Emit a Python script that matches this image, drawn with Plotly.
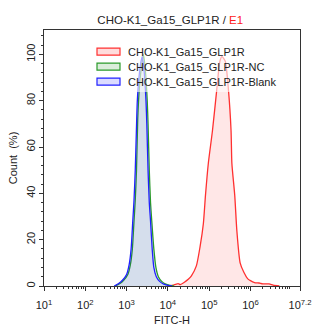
import plotly.graph_objects as go

# FITC-H histograms, bin centres in log10 units and counts as % of mode
glp1r_log = [4.00, 4.15, 4.25, 4.30, 4.40, 4.50, 4.57, 4.69, 4.78, 4.86, 4.91, 4.98,
             5.08, 5.18, 5.26, 5.31, 5.39, 5.47, 5.53, 5.55, 5.62, 5.67, 5.75, 5.84,
             5.93, 6.00, 6.10, 6.21, 6.30, 6.45, 6.55, 6.70]
glp1r_pct = [0, 0.5, 1.0, 0.6, 1.6, 3.0, 4.4, 8.7, 17, 27, 39, 53,
             67, 84, 97, 99, 97, 84, 67, 53, 39, 24, 10, 5.9,
             3.2, 2.3, 1.5, 1.3, 0.9, 0.9, 0.4, 0]

nc_log = [2.72, 2.83, 2.93, 3.03, 3.09, 3.14, 3.18, 3.21, 3.24, 3.27, 3.29, 3.33,
          3.38, 3.41, 3.45, 3.50, 3.52, 3.55, 3.58, 3.61, 3.66, 3.71, 3.77, 3.85,
          3.95, 4.05, 4.15]
nc_pct = [0, 1.0, 2.5, 5, 9, 16, 28, 37, 50, 72, 80, 90,
          97, 100, 94, 80, 70, 50, 36, 28, 16, 8, 4, 2,
          0.8, 0.3, 0]

blank_log = [2.70, 2.80, 2.90, 3.00, 3.06, 3.11, 3.15, 3.18, 3.21, 3.245, 3.26, 3.30,
             3.35, 3.38, 3.42, 3.47, 3.49, 3.52, 3.55, 3.58, 3.62, 3.66, 3.72, 3.80,
             3.90, 4.00, 4.10]
blank_pct = [0, 1.0, 2.5, 5, 9, 16, 28, 37, 50, 72, 80, 90,
             97, 99, 94, 80, 70, 50, 36, 28, 16, 8, 4, 2,
             0.8, 0.3, 0]

series_names = ["CHO-K1_Ga15_GLP1R", "CHO-K1_Ga15_GLP1R-NC", "CHO-K1_Ga15_GLP1R-Blank"]
x_tick_exps = [1, 2, 3, 4, 5, 6, 7.2]
x_tick_labels = ["10<sup>1</sup>", "10<sup>2</sup>", "10<sup>3</sup>", "10<sup>4</sup>",
                 "10<sup>5</sup>", "10<sup>6</sup>", "10<sup>7.2</sup>"]
y_tick_vals = [0, 20, 40, 60, 80, 100]

FONT = "Liberation Sans, Arial, sans-serif"
line_colors = ["#ff3030", "#2a9a2a", "#2020ff"]
fill_colors = ["rgba(255,60,60,0.12)", "rgba(0,128,0,0.08)", "rgba(0,0,255,0.09)"]
key_fills = ["rgba(255,60,60,0.18)", "rgba(0,128,0,0.14)", "rgba(0,0,255,0.14)"]

series = [(glp1r_log, glp1r_pct), (nc_log, nc_pct), (blank_log, blank_pct)]

fig = go.Figure()
for name, (lx, py), lc, fc in zip(series_names, series, line_colors, fill_colors):
    fig.add_trace(go.Scatter(
        x=[10 ** v for v in lx], y=py, name=name, mode="lines",
        line=dict(color=lc, width=1.3, shape="spline", smoothing=0.6),
        fill="tozeroy", fillcolor=fc, showlegend=False,
    ))

# Legend drawn as a key box in paper coordinates (plot area is 256 x 256 px)
def px_x(p):
    return (p - 44) / 256

def px_y(p):
    return (286 - p) / 256

shapes = [dict(type="rect", xref="paper", yref="paper", layer="above",
               x0=px_x(90), x1=px_x(284), y0=px_y(92), y1=px_y(43),
               fillcolor="rgba(255,255,255,0.6)", line=dict(width=0))]
annotations = []
row_y = [51.7, 66.7, 81.7]
for name, lc, kf, ry in zip(series_names, line_colors, key_fills, row_y):
    shapes.append(dict(type="rect", xref="paper", yref="paper", layer="above",
                       x0=px_x(97), x1=px_x(120), y0=px_y(ry + 3.5), y1=px_y(ry - 3.5),
                       fillcolor=kf, line=dict(color=lc, width=1.2)))
    annotations.append(dict(text=name, xref="paper", yref="paper",
                            x=px_x(126), y=px_y(ry), xanchor="left", yanchor="middle",
                            showarrow=False,
                            font=dict(family=FONT, size=11, color="#222")))

minor_vals = [k * 10 ** d for d in range(1, 8) for k in range(2, 10) if k * 10 ** d < 10 ** 7.2]

fig.update_layout(
    width=323, height=326,
    margin=dict(l=44, r=23, t=30, b=40),
    paper_bgcolor="white", plot_bgcolor="white",
    font=dict(family=FONT, size=11, color="#222"),
    title=dict(text="CHO-K1_Ga15_GLP1R / <span style='color:#ff2020'>E1</span>",
               x=0.527, xanchor="center", y=0.94, yanchor="middle",
               font=dict(family=FONT, size=11.5, color="#222")),
    showlegend=False,
    shapes=shapes,
    annotations=annotations,
    xaxis=dict(type="log", range=[1, 7.2], automargin=False,
               tickvals=[10 ** e for e in x_tick_exps], ticktext=x_tick_labels,
               ticks="outside", ticklen=4, tickcolor="#333", tickwidth=1,
               ticklabelstandoff=5,
               showline=True, linecolor="#333", linewidth=1, mirror=True,
               showgrid=False, zeroline=False,
               minor=dict(tickvals=minor_vals, ticks="outside", ticklen=2,
                          tickcolor="#333", showgrid=False),
               title=dict(text="FITC-H", font=dict(family=FONT, size=11), standoff=6),
               tickfont=dict(family=FONT, size=11)),
    yaxis=dict(range=[0, 110.5], tickvals=y_tick_vals, tickangle=-90, automargin=False,
               ticks="outside", ticklen=4, tickcolor="#333", tickwidth=1,
               showline=True, linecolor="#333", linewidth=1, mirror=True,
               showgrid=False, zeroline=False,
               minor=dict(dtick=4, ticks="outside", ticklen=2, tickcolor="#333",
                          showgrid=False),
               title=dict(text="Count  (%)", font=dict(family=FONT, size=11), standoff=4),
               tickfont=dict(family=FONT, size=11)),
)

fig.write_html("out.html")
